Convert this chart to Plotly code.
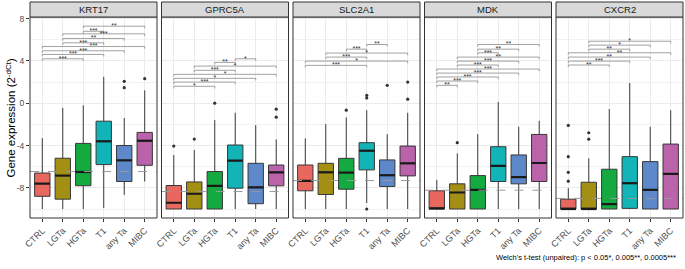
import plotly.graph_objects as go

# ---------------- data ----------------
categories = ["CTRL", "LGTa", "HGTa", "T1", "any Ta", "MIBC"]
genes = ["KRT17", "GPRC5A", "SLC2A1", "MDK", "CXCR2"]
colors = ["#E8675F", "#A38F14", "#14AA40", "#12B4B7", "#5D88CA", "#BA62AA"]

# box statistics per gene (rows) and category (columns)
lower_fence = [
    [-10, -10, -10, -9.9, -8.66, -7.4],
    [-10, -10, -10, -10, -10, -10],
    [-10, -10, -10, -9.44, -10, -10],
    [-10, -10, -10, -10, -10, -10],
    [-10, -10, -10, -10, -10, -10],
]
q1 = [
    [-8.8, -9.07, -7.8, -5.8, -7.4, -5.87],
    [-10.0, -10.0, -10.0, -8.03, -9.5, -7.81],
    [-8.28, -8.63, -8.13, -6.3, -7.87, -6.87],
    [-10.0, -10.0, -10.0, -7.4, -7.62, -7.4],
    [-10.0, -10.0, -10.0, -9.94, -10.0, -10.0],
]
median = [
    [-7.6, -6.84, -6.5, -3.6, -5.4, -3.55],
    [-9.41, -8.56, -7.81, -5.43, -7.95, -6.53],
    [-7.34, -6.53, -6.56, -4.49, -6.81, -5.68],
    [-9.94, -8.44, -8.19, -5.93, -6.99, -5.65],
    [-10.0, -10.0, -9.54, -7.56, -8.19, -6.68],
]
q3 = [
    [-6.6, -5.2, -3.8, -1.7, -4.0, -2.76],
    [-7.78, -7.44, -6.46, -3.95, -5.68, -5.84],
    [-5.84, -5.68, -5.21, -3.73, -5.36, -4.05],
    [-8.28, -7.62, -6.84, -4.11, -4.89, -2.95],
    [-9.07, -7.47, -6.24, -5.05, -5.52, -3.86],
]
upper_fence = [
    [-3.3, -0.44, -0.2, 2.5, -1.4, 1.22],
    [-4.9, -4.42, -1.6, -0.9, -2.07, -3.42],
    [-3.33, -1.98, -1.35, -0.66, -2.92, -0.91],
    [-7.25, -4.74, -2.92, 0.12, -2.23, -1.66],
    [-8.03, -5.21, -0.56, 1.91, -2.23, -0.66],
]
# outliers: (category index, value)
outliers = [
    [(4, 2.07), (4, 1.47), (5, 2.32)],
    [(0, -4.05), (1, -3.39), (2, 0.0), (5, -0.56), (5, -1.32)],
    [(2, -0.66), (3, 0.75), (3, 0.5), (3, -10.0), (4, 1.69), (5, 2.0), (5, 0.38)],
    [(1, -3.73)],
    [(0, -2.1), (0, -5.05), (0, -6.53), (0, -7.37), (1, -2.79), (1, -3.4)],
]
reference_line = [-6.46, -8.35, -7.31, -8.22, -9.0]

# significance brackets: (from category, to category, height, label)
brackets = [
    [(2, 5, 7.28, "**"), (2, 3, 6.80, "***"), (1, 5, 6.56, "***"), (1, 4, 6.12, "**"),
     (1, 3, 5.71, "***"), (0, 5, 5.36, "***"), (0, 4, 4.96, "***"), (0, 3, 4.61, "***"),
     (0, 2, 4.20, "***")],
    [(3, 4, 4.20, "*"), (2, 3, 3.86, "**"), (1, 5, 3.51, "*"), (1, 3, 3.11, "***"),
     (0, 5, 2.73, "*"), (0, 4, 2.35, "*"), (0, 3, 2.00, "***"), (0, 2, 1.60, "*")],
    [(3, 4, 5.55, "**"), (2, 3, 5.11, "***"), (1, 5, 4.74, "*"), (1, 3, 4.36, "***"),
     (0, 5, 3.98, "*"), (0, 3, 3.58, "***")],
    [(2, 5, 5.55, "**"), (2, 4, 5.11, "**"), (2, 3, 4.77, "***"), (1, 5, 4.36, "**"),
     (1, 4, 3.98, "***"), (1, 3, 3.61, "***"), (0, 5, 3.23, "***"), (0, 4, 2.85, "***"),
     (0, 3, 2.48, "***"), (0, 2, 2.10, "***"), (0, 1, 1.69, "**")],
    [(1, 5, 5.86, "*"), (1, 4, 5.49, "*"), (1, 3, 5.11, "**"), (0, 5, 4.77, "**"),
     (0, 4, 4.36, "**"), (0, 3, 3.98, "***"), (0, 2, 3.61, "**")],
]

y_ticks = [-8, -4, 0, 4, 8]
y_minor = [-10, -6, -2, 2, 6]
y_range = [-10.85, 8.15]
caption = "Welch's t-test (unpaired): p < 0.05*, 0.005**, 0.0005***"
y_title = "Gene expression (2<sup>-dCt</sup>)"

# ---------------- figure ----------------
W, H = 685, 269
FONT = "Liberation Sans, Arial, sans-serif"
panel_left, panel_step, panel_w = 30, 131.5, 127
panel_top, panel_bottom = 17, 218
strip_top = 2
box_w = 0.75
tip = 0.2

fig = go.Figure()
layout_axes = {}
shapes = []
annotations = []

for g, gene in enumerate(genes):
    xa = "x" if g == 0 else f"x{g + 1}"
    ya = "y" if g == 0 else f"y{g + 1}"
    pos = [c + 1 for c in range(len(categories))]

    for c in range(len(categories)):
        fig.add_trace(go.Box(
            x=[pos[c]], q1=[q1[g][c]], median=[median[g][c]], q3=[q3[g][c]],
            lowerfence=[lower_fence[g][c]], upperfence=[upper_fence[g][c]],
            width=box_w, fillcolor=colors[c], line=dict(color="#383838", width=1),
            whiskerwidth=0, boxpoints=False, xaxis=xa, yaxis=ya,
            showlegend=False, hoverinfo="skip"))
        fig.add_trace(go.Scatter(
            x=[pos[c] - box_w / 2, pos[c] + box_w / 2],
            y=[median[g][c], median[g][c]], mode="lines",
            line=dict(color="#1a1a1a", width=2.2), xaxis=xa, yaxis=ya,
            showlegend=False, hoverinfo="skip"))

    if outliers[g]:
        fig.add_trace(go.Scatter(
            x=[pos[c] for c, v in outliers[g]], y=[v for c, v in outliers[g]],
            mode="markers", marker=dict(color="#333333", size=3.2),
            xaxis=xa, yaxis=ya, showlegend=False, hoverinfo="skip"))

    sx, sy, st = [], [], []
    for a, b, h, lab in brackets[g]:
        fig.add_trace(go.Scatter(
            x=[pos[a], pos[a], pos[b], pos[b]], y=[h - tip, h, h, h - tip],
            mode="lines", line=dict(color="#8a8a8a", width=0.8),
            xaxis=xa, yaxis=ya, showlegend=False, hoverinfo="skip"))
        sx.append((pos[a] + pos[b]) / 2)
        sy.append(h)
        st.append(lab)
    fig.add_trace(go.Scatter(
        x=sx, y=sy, text=st, mode="text", textposition="middle center",
        textfont=dict(family=FONT, size=7, color="#333333"),
        xaxis=xa, yaxis=ya, showlegend=False, hoverinfo="skip"))

    x0 = panel_left + g * panel_step
    xd = [x0 / W, (x0 + panel_w) / W]
    yd = [1 - panel_bottom / H, 1 - panel_top / H]
    key_x = "xaxis" if g == 0 else f"xaxis{g + 1}"
    key_y = "yaxis" if g == 0 else f"yaxis{g + 1}"
    layout_axes[key_x] = dict(
        domain=xd, anchor=ya, range=[0.4, 6.6], tickmode="array",
        tickvals=pos, ticktext=categories, tickangle=-45,
        tickfont=dict(family=FONT, size=9, color="#4D4D4D"),
        showgrid=True, gridcolor="#EBEBEB", gridwidth=1, zeroline=False,
        ticks="outside", ticklen=3, tickcolor="#333333", tickwidth=1,
        showline=False, automargin=False, fixedrange=True)
    layout_axes[key_y] = dict(
        domain=yd, anchor=xa, range=y_range, tickmode="array",
        tickvals=y_ticks, ticktext=[str(t) for t in y_ticks],
        showticklabels=(g == 0), ticks="outside" if g == 0 else "",
        ticklen=3, tickcolor="#333333", tickwidth=1,
        tickfont=dict(family=FONT, size=8.5, color="#4D4D4D"),
        showgrid=True, gridcolor="#EBEBEB", gridwidth=1, zeroline=False,
        minor=dict(tickmode="array", tickvals=y_minor, showgrid=True,
                   gridcolor="#F2F2F2", gridwidth=0.6),
        showline=False, automargin=False, fixedrange=True)

    shapes.append(dict(type="line", xref=f"{xa} domain", yref=ya, x0=0, x1=1,
                       y0=reference_line[g], y1=reference_line[g],
                       line=dict(color="#999999", width=1, dash="dash"), layer="above"))
    shapes.append(dict(type="rect", xref=f"{xa} domain", yref=f"{ya} domain",
                       x0=0, x1=1, y0=0, y1=1, line=dict(color="#333333", width=1),
                       fillcolor="rgba(0,0,0,0)", layer="above"))
    shapes.append(dict(type="rect", xref=f"{xa} domain", yref="paper",
                       x0=0, x1=1, y0=1 - panel_top / H, y1=1 - strip_top / H,
                       line=dict(color="#333333", width=1), fillcolor="#D9D9D9",
                       layer="above"))
    annotations.append(dict(text=gene, xref=f"{xa} domain", yref="paper",
                            x=0.5, y=1 - (panel_top + strip_top) / 2 / H,
                            showarrow=False, xanchor="center", yanchor="middle",
                            font=dict(family=FONT, size=9.5, color="#1a1a1a")))

annotations.append(dict(text=y_title, xref="paper", yref="paper", x=10 / W,
                        y=1 - (panel_top + panel_bottom) / 2 / H, textangle=-90,
                        showarrow=False, xanchor="center", yanchor="middle",
                        font=dict(family=FONT, size=11.5, color="#000000")))
annotations.append(dict(text=caption, xref="paper", yref="paper", x=678 / W,
                        y=1 - 257 / H, showarrow=False, xanchor="right",
                        yanchor="middle", font=dict(family=FONT, size=7.5, color="#000000")))

fig.update_layout(
    width=W, height=H, autosize=False,
    margin=dict(l=0, r=0, t=0, b=0),
    paper_bgcolor="white", plot_bgcolor="white",
    boxmode="overlay", showlegend=False,
    shapes=shapes, annotations=annotations, **layout_axes)

fig.write_html("out.html", config={"displayModeBar": False},
               post_script="document.body.style.margin='0';document.body.style.overflow='hidden';")
